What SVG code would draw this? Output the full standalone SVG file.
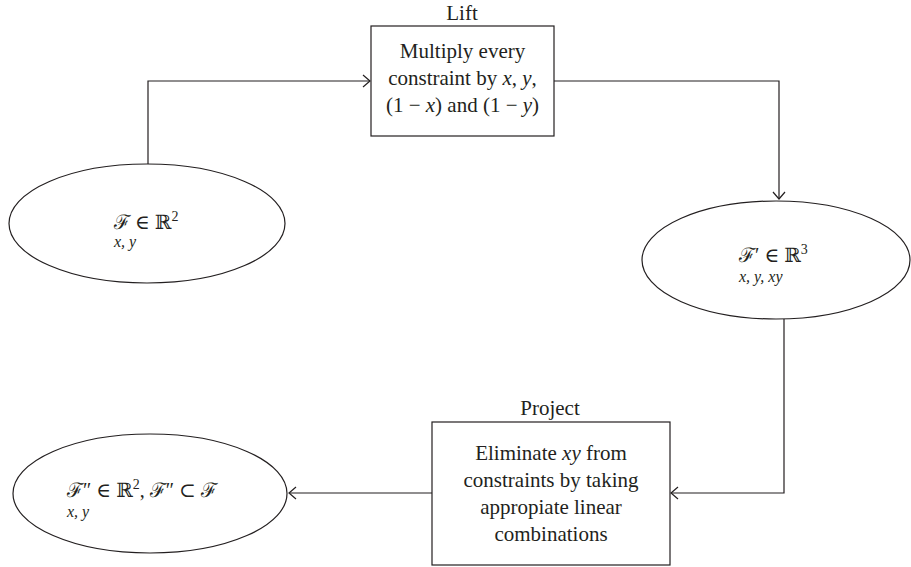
<svg xmlns="http://www.w3.org/2000/svg" width="911" height="567" viewBox="0 0 911 567">
<style>
.shape{fill:none;stroke:#231f20;stroke-width:1.2}
.conn{fill:none;stroke:#231f20;stroke-width:1.2}
text{font-family:"Liberation Serif","DejaVu Serif",serif;fill:#231f20}
.t{font-size:21px;text-anchor:middle}
.m{font-size:20px}
.s{font-size:16px;font-style:italic}
.i{font-style:italic}
</style>
<defs>
<marker id="arr" markerUnits="userSpaceOnUse" markerWidth="16" markerHeight="16" viewBox="-10 -8 12 16" refX="0" refY="0" orient="auto">
<path d="M-7,-6 L0,0 L-7,6" fill="none" stroke="#231f20" stroke-width="1.2"/>
</marker>
</defs>
<rect width="911" height="567" fill="#fff"/>
<g id="connectors">
<path class="conn" d="M148,164 V81 H370" marker-end="url(#arr)"/>
<path class="conn" d="M554,81 H779 V199" marker-end="url(#arr)"/>
<path class="conn" d="M784,319 V493 H671" marker-end="url(#arr)"/>
<path class="conn" d="M432,493 H289" marker-end="url(#arr)"/>
</g>
<g id="node-F">
<ellipse class="shape" cx="147" cy="223.5" rx="138" ry="59.5"/>
<text class="m" x="114" y="229">ℱ ∈ ℝ<tspan font-size="14" dy="-8">2</tspan></text>
<text class="s" x="114" y="247">x, y</text>
</g>
<g id="node-lift">
<text class="t" x="462" y="20">Lift</text>
<rect class="shape" x="371" y="26" width="183" height="110"/>
<text class="t" x="462.5" y="58">Multiply every</text>
<text class="t" x="462.5" y="85">constraint by <tspan class="i">x</tspan>, <tspan class="i">y</tspan>,</text>
<text class="t" x="462.5" y="112">(1 − <tspan class="i">x</tspan>) and (1 − <tspan class="i">y</tspan>)</text>
</g>
<g id="node-F1">
<ellipse class="shape" cx="776" cy="260" rx="134" ry="59"/>
<text class="m" x="739" y="262">ℱ′ ∈ ℝ<tspan font-size="14" dy="-8">3</tspan></text>
<text class="s" x="739" y="282">x, y, xy</text>
</g>
<g id="node-project">
<text class="t" x="550" y="415">Project</text>
<rect class="shape" x="432" y="422" width="238" height="143"/>
<text class="t" x="551" y="460">Eliminate <tspan class="i">xy</tspan> from</text>
<text class="t" x="551" y="487">constraints by taking</text>
<text class="t" x="551" y="514">appropiate linear</text>
<text class="t" x="551" y="541">combinations</text>
</g>
<g id="node-F2">
<ellipse class="shape" cx="150" cy="493.5" rx="137" ry="59.5"/>
<text class="m" x="67" y="497">ℱ″ ∈ ℝ<tspan font-size="14" dy="-8">2</tspan><tspan dy="8">, ℱ″ ⊂ ℱ</tspan></text>
<text class="s" x="67" y="517">x, y</text>
</g>
</svg>
